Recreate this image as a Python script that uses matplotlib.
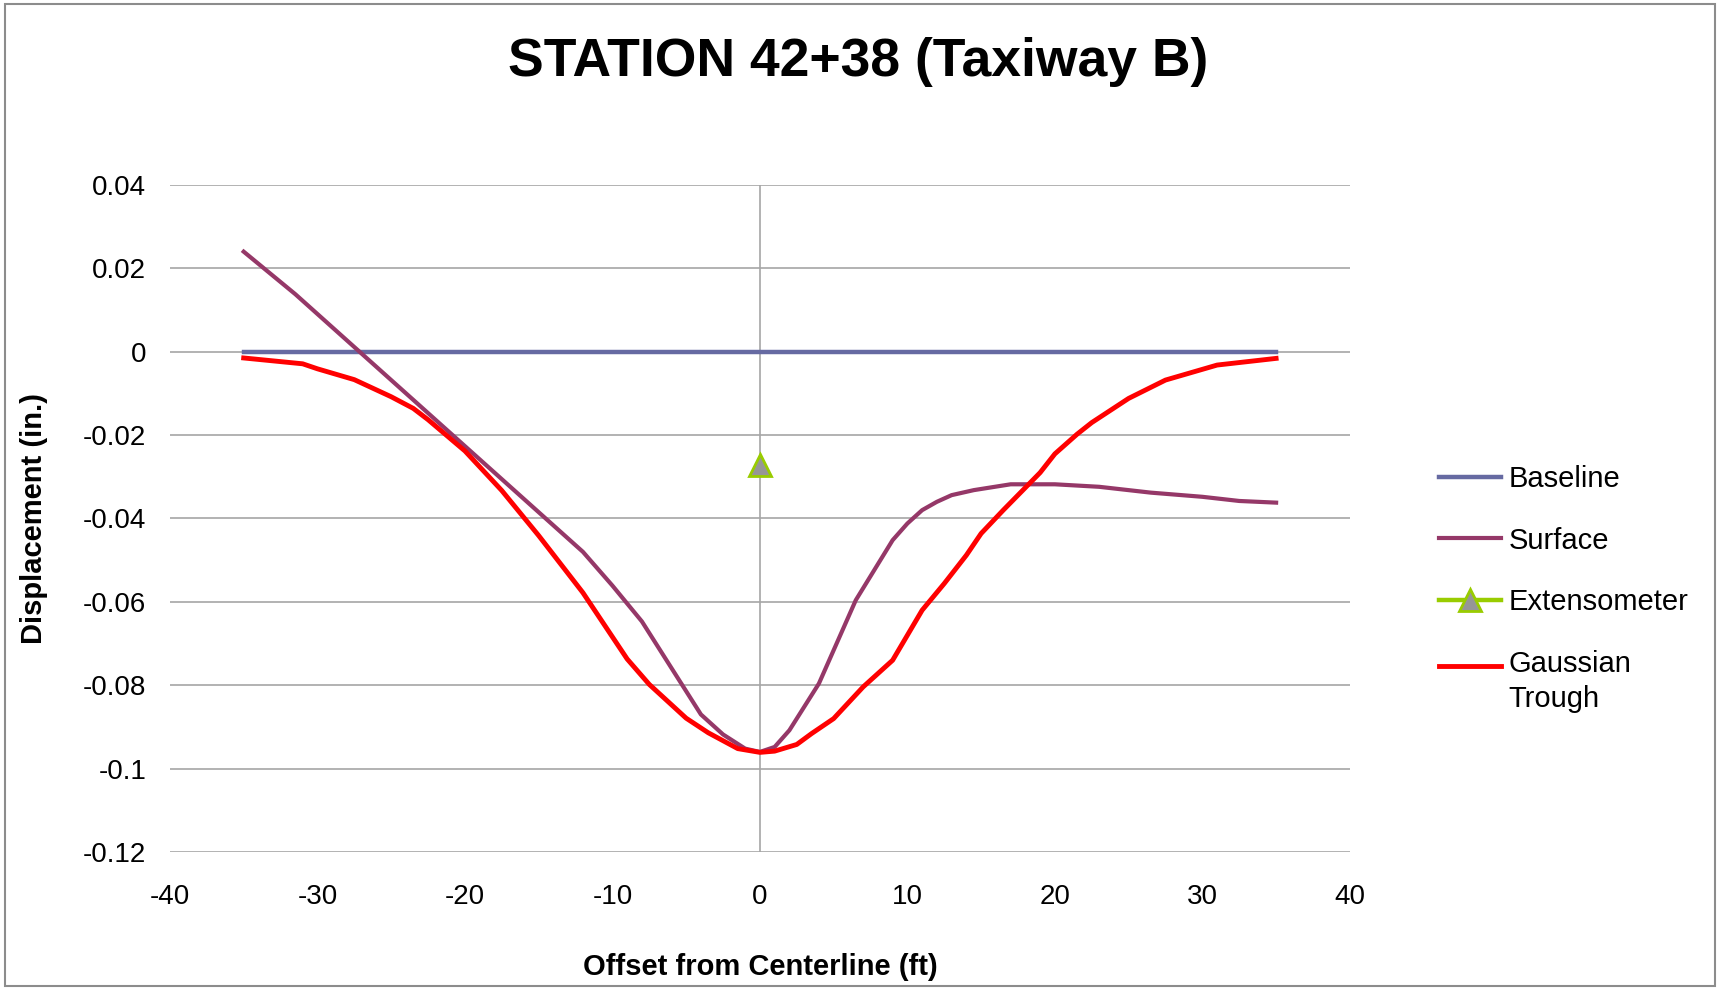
import matplotlib.pyplot as plt
from matplotlib.patches import Rectangle

plt.rcParams['font.family'] = ['Liberation Sans', 'DejaVu Sans']
plt.rcParams['axes.unicode_minus'] = False

# data
baseline_x = [-35, 35]
baseline_y = [0.0, 0.0]

surface_x = [-35, -31.5, -12, -10, -8, -4, -2.5, -1, 0, 1, 2, 4, 5.3, 6.5, 9,
             10, 11, 12, 13, 14.5, 17, 20, 23, 26.5, 30, 32.5, 35]
surface_y = [0.0240, 0.0138, -0.0480, -0.0561, -0.0647, -0.0870, -0.0918,
             -0.0952, -0.0960, -0.0948, -0.0908, -0.0796, -0.0692, -0.0596,
             -0.0452, -0.0412, -0.0380, -0.0360, -0.0344, -0.0332, -0.0318,
             -0.0318, -0.0324, -0.0338, -0.0348, -0.0358, -0.0362]

extenso_x = [0]
extenso_y = [-0.0271]

gauss_x = [-35, -31, -30, -27.5, -25, -23.5, -22.5, -20, -17.5, -15, -12, -9,
           -7.5, -5, -3.5, -1.5, 0, 1, 2.5, 3.5, 5, 7, 9, 11, 12.5, 14, 15,
           16.5, 19, 20, 21.5, 22.5, 25, 27.5, 31, 35]
gauss_y = [-0.0015, -0.0029, -0.0041, -0.0067, -0.0108, -0.0136, -0.0163,
           -0.0238, -0.0333, -0.0441, -0.0578, -0.0737, -0.0798, -0.0879,
           -0.0914, -0.0952, -0.0961, -0.0958, -0.0942, -0.0916, -0.0880,
           -0.0804, -0.0740, -0.0620, -0.0556, -0.0488, -0.0436, -0.0380,
           -0.0290, -0.0245, -0.0198, -0.0170, -0.0112, -0.0068, -0.0032,
           -0.0016]

y_ticks = [0.04, 0.02, 0, -0.02, -0.04, -0.06, -0.08, -0.1, -0.12]
y_labels = ['0.04', '0.02', '0', '-0.02', '-0.04', '-0.06', '-0.08', '-0.1', '-0.12']
x_ticks = [-40, -30, -20, -10, 0, 10, 20, 30, 40]

fig = plt.figure(figsize=(17.2, 9.89), dpi=100)
ax = fig.add_axes([0.0988, 0.1385, 0.686, 0.6745])

ax.plot(baseline_x, baseline_y, color='#666AA2', lw=3.2, label='Baseline', zorder=3)
ax.plot(surface_x, surface_y, color='#953868', lw=3.0, label='Surface', zorder=4)
ax.plot(extenso_x, extenso_y, color='#99CC00', lw=3.2, marker='^', markersize=15.5,
        markerfacecolor='#969696', markeredgecolor='#99CC00', markeredgewidth=2,
        label='Extensometer', zorder=6)
ax.plot(gauss_x, gauss_y, color='#FF0000', lw=3.5, label='Gaussian\nTrough', zorder=5)

ax.set_xlim(-40, 40)
ax.set_ylim(-0.12, 0.04)
ax.set_yticks(y_ticks)
ax.set_yticklabels(y_labels)
ax.set_xticks(x_ticks)
for y in y_ticks:
    ax.axhline(y, color='#A6A6A6', lw=1.2, zorder=1)
ax.axvline(0, color='#A6A6A6', lw=1.2, zorder=1)
for s in ax.spines.values():
    s.set_visible(False)
ax.tick_params(length=0, labelsize=20, pad=17)
ax.tick_params(axis='x', pad=23)

ax.set_xlabel('Offset from Centerline (ft)', fontsize=21, fontweight='bold', labelpad=31)
ax.set_ylabel('Displacement (in.)', fontsize=21, fontweight='bold', labelpad=25)

fig.text(0.499, 0.9375, 'STATION 42+38 (Taxiway B)', ha='center', va='center',
         fontsize=38.5, fontweight='bold')

leg = ax.legend(loc='upper left', bbox_to_anchor=(1.053, 0.6195), frameon=False,
                fontsize=21, handlelength=2.15, handletextpad=0.25, labelspacing=1.15)
leg.get_texts()[3].set_linespacing(1.35)
# Excel puts the sample line beside the first line of a wrapped label
gline = leg.legend_handles[3]
gline.set_ydata([v + 12 for v in gline.get_ydata()])

fig.patches.append(Rectangle((0.003, 0.003), 0.994, 0.993, transform=fig.transFigure,
                             fill=False, edgecolor='#8C8C8C', lw=1.5))

fig.savefig('out.png', dpi=100)
